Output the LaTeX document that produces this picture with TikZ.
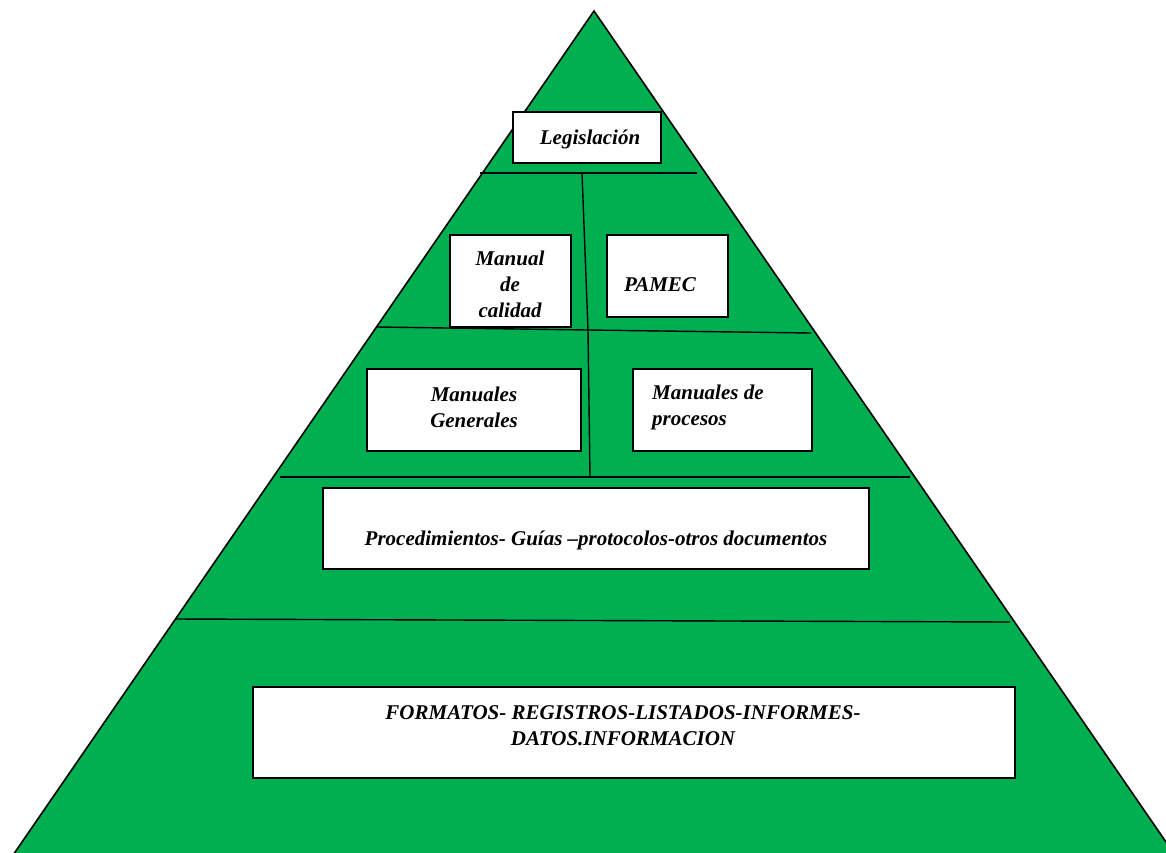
\documentclass[tikz,border=0pt]{standalone}
\usepackage{fontspec}
\setmainfont{Liberation Serif}
\begin{document}
\begin{tikzpicture}[x=1pt,y=-1pt,
  box/.style={draw=black, fill=white, line width=1.8pt, inner sep=0pt},
  lbl/.style={font=\fontsize{21}{26}\selectfont\bfseries\itshape, inner sep=0pt, align=center},
  divider/.style={draw=black, line width=1.4pt}]
\definecolor{pyrgreen}{HTML}{00B050}
\useasboundingbox (0,0) rectangle (1166,852);
\clip (0,0) rectangle (1166,852);

% pyramid body (its base runs just below the lower edge)
\filldraw[fill=pyrgreen, draw=black, line width=1.6pt]
  (594,11) -- (11,858) -- (1177,858) -- cycle;

% dividing lines between the levels
\coordinate (l1a) at (480,173);
\coordinate (l1b) at (697,173);
\coordinate (va) at (582,173);
\coordinate (vb) at (588,330);
\coordinate (vc) at (590,477);
\coordinate (l2a) at (377,327);
\coordinate (l2b) at (811,333);
\coordinate (l3a) at (280,477);
\coordinate (l3b) at (910,477);
\coordinate (l4a) at (175,619);
\coordinate (l4b) at (1010,622);
\draw[divider] (l1a) -- (l1b);
\draw[divider] (va) -- (vb) -- (vc);
\draw[divider] (l2a) -- (vb) -- (l2b);
\draw[divider] (l3a) -- (l3b);
\draw[divider] (l4a) -- (l4b);

% boxes
\node[box, minimum width=148pt, minimum height=51pt] (leg) at (587,137.5) {};
\node[box, minimum width=121pt, minimum height=92pt] (mcal) at (510.5,281) {};
\node[box, minimum width=121pt, minimum height=82pt] (pamec) at (667.5,276) {};
\node[box, minimum width=214pt, minimum height=82pt] (mgen) at (474,410) {};
\node[box, minimum width=179pt, minimum height=82pt] (mproc) at (722.5,410) {};
\node[box, minimum width=546pt, minimum height=81pt] (proc) at (596,528.5) {};
\node[box, minimum width=762pt, minimum height=91pt] (form) at (634,732.5) {};

% texts
\node[lbl] (tleg) at (590,139) {Legislación};
\node[lbl] (tmcal) at (510,284) {Manual\\de\\calidad};
\node[lbl] (tpamec) at (660,285) {PAMEC};
\node[lbl] (tmgen) at (474,407) {Manuales\\Generales};
\node[lbl, align=left, anchor=west] (tmproc) at (652,407) {Manuales de\\procesos};
\node[lbl] (tproc) at (596,540) {Procedimientos- Guías –protocolos-otros documentos};
\node[lbl] (tform) at (623,726) {FORMATOS- REGISTROS-LISTADOS-INFORMES-\\DATOS.INFORMACION};
\end{tikzpicture}
\end{document}
